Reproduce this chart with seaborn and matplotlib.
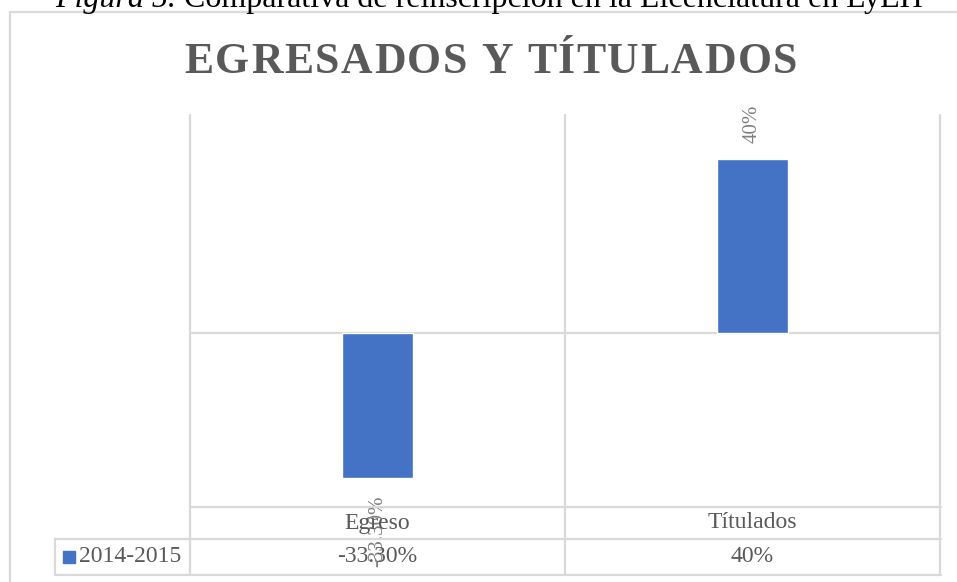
import matplotlib
matplotlib.use("Agg")
import matplotlib.pyplot as plt
import matplotlib.patches as mpatches
from matplotlib.lines import Line2D
import seaborn as sns
import pandas as pd

categories = ["Egreso", "Títulados"]
values = [-0.333, 0.40]
value_labels = ["-33.30%", "40%"]
series_name = "2014-2015"
title = "EGRESADOS Y TÍTULADOS"
caption_italic = "Figura 5."
caption_rest = " Comparativa de reinscripción en la Licenciatura en LyEH"

blue = "#4472C4"
grid = "#D9D9D9"
txt = "#595959"
lbl = "#7F7F7F"

W, H = 957, 582
sns.set_style("white")
plt.rcParams["font.family"] = ["Liberation Serif", "DejaVu Serif"]

fig = plt.figure(figsize=(W / 100, H / 100), dpi=100)
fig.patch.set_facecolor("white")


def fx(x):
    return x / W


def fy(y):
    return 1 - y / H


ax = fig.add_axes([fx(190), fy(507), fx(940) - fx(190), (507 - 115) / H])

df = pd.DataFrame({"cat": categories, "val": values})
sns.barplot(data=df, x="cat", y="val", color=blue, width=0.187, ax=ax,
            saturation=1, zorder=3)

ax.set_xlim(-0.5, 1.5)
ax.set_ylim(-0.4, 0.5)
for s in ax.spines.values():
    s.set_visible(False)
ax.set_xticks([])
ax.set_yticks([])
ax.set_xlabel("")
ax.set_ylabel("")

# gridlines / zero line
bottom_tab = -(575 - 507) / 392
for xv in [-0.5, 0.5, 1.5]:
    ax.axvline(xv, ymin=bottom_tab, ymax=1, color=grid, lw=1.6, clip_on=False, zorder=1)
ax.axhline(0, color=grid, lw=1.6, zorder=2)

# data labels
for i, (v, t) in enumerate(zip(values, value_labels)):
    if v >= 0:
        ax.annotate(t, (i, v), xytext=(0, 11), textcoords="offset points",
                    rotation=90, ha="center", va="bottom", fontsize=15, color=lbl)
    else:
        ax.annotate(t, (i, v), xytext=(0, -13), textcoords="offset points",
                    rotation=90, ha="center", va="top", fontsize=15, color=lbl)

# data table
row1 = -(523 - 507) / 392
row2 = -(557 - 507) / 392
for i, c in enumerate(categories):
    ax.text(i, row1, c, transform=ax.get_xaxis_transform(), ha="center", va="center",
            fontsize=17, color=txt)
    ax.text(i, row2, value_labels[i], transform=ax.get_xaxis_transform(), ha="center",
            va="center", fontsize=17, color=txt)

for y, x0 in [(507, 190), (539, 55), (575, 55)]:
    fig.add_artist(Line2D([fx(x0), fx(941)], [fy(y), fy(y)], color=grid, lw=1.6))
fig.add_artist(Line2D([fx(55), fx(55)], [fy(539), fy(575)], color=grid, lw=1.6))

fig.add_artist(mpatches.Rectangle((fx(63), fy(563)), fx(12), 12 / H, color=blue,
                                  transform=fig.transFigure))
fig.text(fx(79), fy(557), series_name, ha="left", va="center", fontsize=17, color=txt)

# chart frame
fig.add_artist(mpatches.Rectangle((fx(10), fy(600)), fx(960), (600 - 12) / H,
                                  fill=False, edgecolor=grid, lw=1.6,
                                  transform=fig.transFigure))

renderer = fig.canvas.get_renderer()

# title with letter spacing
tsize = 31.5
widths = []
for ch in title:
    t = fig.text(0, 0, ch, fontsize=tsize, fontweight="bold")
    widths.append(t.get_window_extent(renderer).width if ch != " " else tsize * 0.25 * 100 / 72)
    t.remove()
target = 613
gap = (target - sum(widths)) / (len(title) - 1)
x = 491 - target / 2
for ch, w in zip(title, widths):
    if ch != " ":
        fig.text(fx(x), fy(73), ch, ha="left", va="baseline", fontsize=tsize,
                 fontweight="bold", color=txt)
    x += w + gap

# caption, partly cut at the top
probe1 = fig.text(0, 0, caption_italic, fontsize=20, style="italic")
probe2 = fig.text(0, 0, caption_rest, fontsize=20)
wsum = probe1.get_window_extent(renderer).width + probe2.get_window_extent(renderer).width
probe1.remove()
probe2.remove()
csize = 20 * (923 - 55) / wsum
t1 = fig.text(fx(55), fy(7), caption_italic, ha="left", va="baseline", fontsize=csize,
              style="italic", color="black")
bb = t1.get_window_extent(renderer)
fig.text(bb.x1 / W, fy(7), caption_rest, ha="left", va="baseline", fontsize=csize,
         color="black")

fig.savefig("out.png", dpi=100)
